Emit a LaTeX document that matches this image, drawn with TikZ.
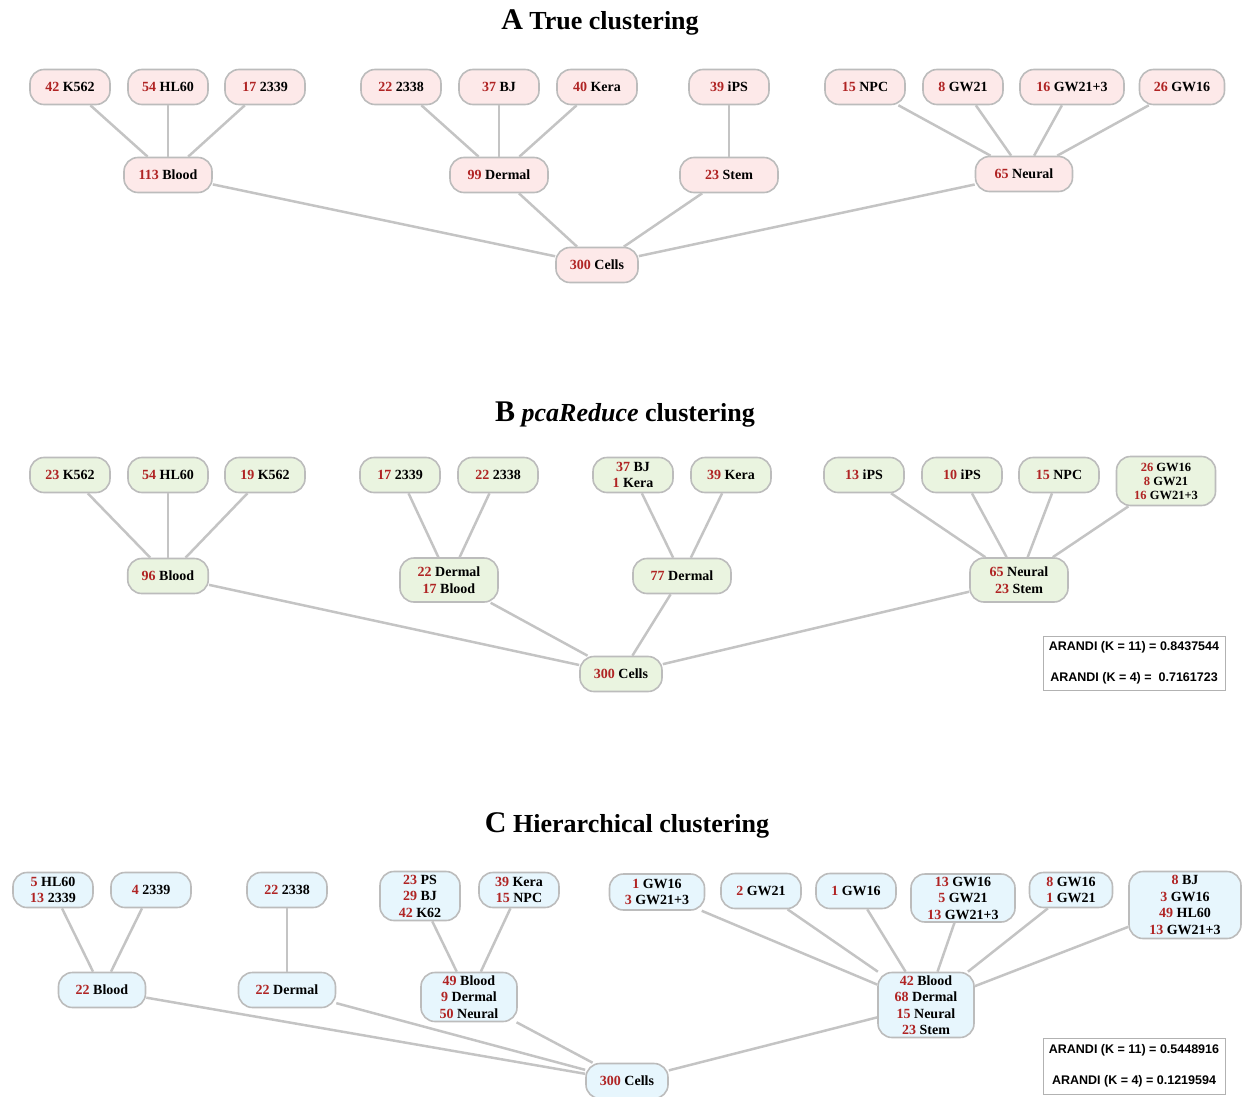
\documentclass[tikz,border=0pt]{standalone}
\usepackage{fontspec}
\setmainfont{Liberation Serif}
\newfontfamily\arandifont{Liberation Sans}

\definecolor{numred}{RGB}{176,36,36}
\definecolor{boxline}{RGB}{188,188,188}
\definecolor{linkgray}{RGB}{196,196,196}
\definecolor{pinkfill}{RGB}{253,233,233}
\definecolor{greenfill}{RGB}{234,244,224}
\definecolor{bluefill}{RGB}{231,246,253}

% count in red, then the label
\newcommand\grpn[2]{\textcolor{numred}{#1} #2}

\begin{document}
\begin{tikzpicture}[x=1pt,y=-1pt,
  clu/.style={draw=boxline, line width=1.6pt, rounded corners=14pt,
    minimum width=80pt, minimum height=35pt, inner xsep=14pt, inner ysep=2pt,
    align=center, font=\bfseries\fontsize{14}{16.5}\selectfont},
  cluA/.style={clu, fill=pinkfill},
  cluB/.style={clu, fill=greenfill},
  cluC/.style={clu, fill=bluefill},
  link/.style={draw=linkgray, line width=2.5pt},
  ttl/.style={font=\bfseries\fontsize{26}{26}\selectfont},
  arandi/.style={draw=gray!60, line width=1pt, minimum width=182pt,
    align=center, font=\arandifont\bfseries\fontsize{12.5}{31}\selectfont}]
\useasboundingbox (0,0) rectangle (1245,1097);

% A: true clustering
\node [ttl] (tA) at (600,22) {{\fontsize{30}{30}\selectfont A} True clustering};
\node [cluA] (aK562) at (70,87) {\grpn{42}{K562}};
\node [cluA] (aHL60) at (168,87) {\grpn{54}{HL60}};
\node [cluA] (a2339) at (265,87) {\grpn{17}{2339}};
\node [cluA] (a2338) at (401,87) {\grpn{22}{2338}};
\node [cluA] (aBJ) at (499,87) {\grpn{37}{BJ}};
\node [cluA] (aKera) at (597,87) {\grpn{40}{Kera}};
\node [cluA] (aiPS) at (729,87) {\grpn{39}{iPS}};
\node [cluA] (aNPC) at (865,87) {\grpn{15}{NPC}};
\node [cluA] (aGW21) at (963,87) {\grpn{8}{GW21}};
\node [cluA, minimum width=104pt] (aGW213) at (1072,87) {\grpn{16}{GW21+3}};
\node [cluA, minimum width=85pt] (aGW16) at (1182,87) {\grpn{26}{GW16}};
\node [cluA, minimum width=88pt] (aBlood) at (168,175) {\grpn{113}{Blood}};
\node [cluA, minimum width=98pt] (aDermal) at (499,175) {\grpn{99}{Dermal}};
\node [cluA, minimum width=98pt] (aStem) at (729,175) {\grpn{23}{Stem}};
\node [cluA, minimum width=97pt] (aNeural) at (1024,174) {\grpn{65}{Neural}};
\node [cluA, minimum width=82pt] (aCells) at (597,265) {\grpn{300}{Cells}};
\foreach \s in {aK562,aHL60,a2339} \draw [link] (\s) -- (aBlood);
\foreach \s in {a2338,aBJ,aKera} \draw [link] (\s) -- (aDermal);
\draw [link] (aiPS) -- (aStem);
\foreach \s in {aNPC,aGW21,aGW213,aGW16} \draw [link] (\s) -- (aNeural);
\foreach \s in {aBlood,aDermal,aStem,aNeural} \draw [link] (\s) -- (aCells);

% B: pcaReduce
\node [ttl] (tB) at (625,415) {{\fontsize{30}{30}\selectfont B} \textit{pcaReduce} clustering};
\node [cluB] (bK562a) at (70,475) {\grpn{23}{K562}};
\node [cluB] (bHL60) at (168,475) {\grpn{54}{HL60}};
\node [cluB] (bK562b) at (265,475) {\grpn{19}{K562}};
\node [cluB] (b2339) at (400,475) {\grpn{17}{2339}};
\node [cluB] (b2338) at (498,475) {\grpn{22}{2338}};
\node [cluB] (bBJ) at (633,475) {\grpn{37}{BJ}\\\grpn{1}{Kera}};
\node [cluB] (bKera) at (731,475) {\grpn{39}{Kera}};
\node [cluB] (biPSa) at (864,475) {\grpn{13}{iPS}};
\node [cluB] (biPSb) at (962,475) {\grpn{10}{iPS}};
\node [cluB] (bNPC) at (1059,475) {\grpn{15}{NPC}};
\node [cluB, minimum width=99pt, minimum height=49pt,
  font=\bfseries\fontsize{12.5}{14}\selectfont] (bGW) at (1166,481)
  {\grpn{26}{GW16}\\\grpn{8}{GW21}\\\grpn{16}{GW21+3}};
\node [cluB] (bBlood) at (168,576) {\grpn{96}{Blood}};
\node [cluB, minimum width=98pt, minimum height=44pt] (bDermBlood) at (449,580)
  {\grpn{22}{Dermal}\\\grpn{17}{Blood}};
\node [cluB, minimum width=98pt] (bDermal) at (682,576) {\grpn{77}{Dermal}};
\node [cluB, minimum width=98pt, minimum height=44pt] (bNeurStem) at (1019,580)
  {\grpn{65}{Neural}\\\grpn{23}{Stem}};
\node [cluB, minimum width=81pt] (bCells) at (621,674) {\grpn{300}{Cells}};
\foreach \s in {bK562a,bHL60,bK562b} \draw [link] (\s) -- (bBlood);
\foreach \s in {b2339,b2338} \draw [link] (\s) -- (bDermBlood);
\foreach \s in {bBJ,bKera} \draw [link] (\s) -- (bDermal);
\foreach \s in {biPSa,biPSb,bNPC,bGW} \draw [link] (\s) -- (bNeurStem);
\foreach \s in {bBlood,bDermBlood,bDermal,bNeurStem} \draw [link] (\s) -- (bCells);
\node [arandi, minimum height=54pt] (arB) at (1134,663)
  {ARANDI (K = 11) = 0.8437544\\ARANDI (K = 4) =~~0.7161723};

% C: hierarchical
\node [ttl] (tC) at (627,825) {{\fontsize{30}{30}\selectfont C} Hierarchical clustering};
\node [cluC] (cHL60) at (53,890) {\grpn{5}{HL60}\\\grpn{13}{2339}};
\node [cluC] (c2339) at (151,890) {\grpn{4}{2339}};
\node [cluC] (c2338) at (287,890) {\grpn{22}{2338}};
\node [cluC, minimum height=49pt] (cPS) at (420,896)
  {\grpn{23}{PS}\\\grpn{29}{BJ}\\\grpn{42}{K62}};
\node [cluC] (cKera) at (519,890) {\grpn{39}{Kera}\\\grpn{15}{NPC}};
\node [cluC, minimum width=95pt, minimum height=36pt] (cGWa) at (657,892)
  {\grpn{1}{GW16}\\\grpn{3}{GW21+3}};
\node [cluC] (cGW21) at (761,891) {\grpn{2}{GW21}};
\node [cluC] (cGW16) at (856,891) {\grpn{1}{GW16}};
\node [cluC, minimum width=104pt, minimum height=48pt] (cGWb) at (963,898)
  {\grpn{13}{GW16}\\\grpn{5}{GW21}\\\grpn{13}{GW21+3}};
\node [cluC, minimum width=83pt] (cGWc) at (1071,890) {\grpn{8}{GW16}\\\grpn{1}{GW21}};
\node [cluC, minimum width=112pt, minimum height=67pt] (cBJ) at (1185,905)
  {\grpn{8}{BJ}\\\grpn{3}{GW16}\\\grpn{49}{HL60}\\\grpn{13}{GW21+3}};
\node [cluC, minimum width=87pt] (cBlood) at (102,990) {\grpn{22}{Blood}};
\node [cluC, minimum width=97pt] (cDermal) at (287,990) {\grpn{22}{Dermal}};
\node [cluC, minimum width=96pt, minimum height=49pt] (cMixA) at (469,997)
  {\grpn{49}{Blood}\\\grpn{9}{Dermal}\\\grpn{50}{Neural}};
\node [cluC, minimum width=96pt, minimum height=65pt] (cMixB) at (926,1005)
  {\grpn{42}{Blood}\\\grpn{68}{Dermal}\\\grpn{15}{Neural}\\\grpn{23}{Stem}};
\node [cluC, minimum width=81pt] (cCells) at (627,1081) {\grpn{300}{Cells}};
\foreach \s in {cHL60,c2339} \draw [link] (\s) -- (cBlood);
\draw [link] (c2338) -- (cDermal);
\foreach \s in {cPS,cKera} \draw [link] (\s) -- (cMixA);
\foreach \s in {cGWa,cGW21,cGW16,cGWb,cGWc,cBJ} \draw [link] (\s) -- (cMixB);
\foreach \s in {cBlood,cDermal,cMixA,cMixB} \draw [link] (\s) -- (cCells);
\node [arandi, minimum height=56pt] (arC) at (1134,1066)
  {ARANDI (K = 11) = 0.5448916\\ARANDI (K = 4) = 0.1219594};
\end{tikzpicture}
\end{document}
